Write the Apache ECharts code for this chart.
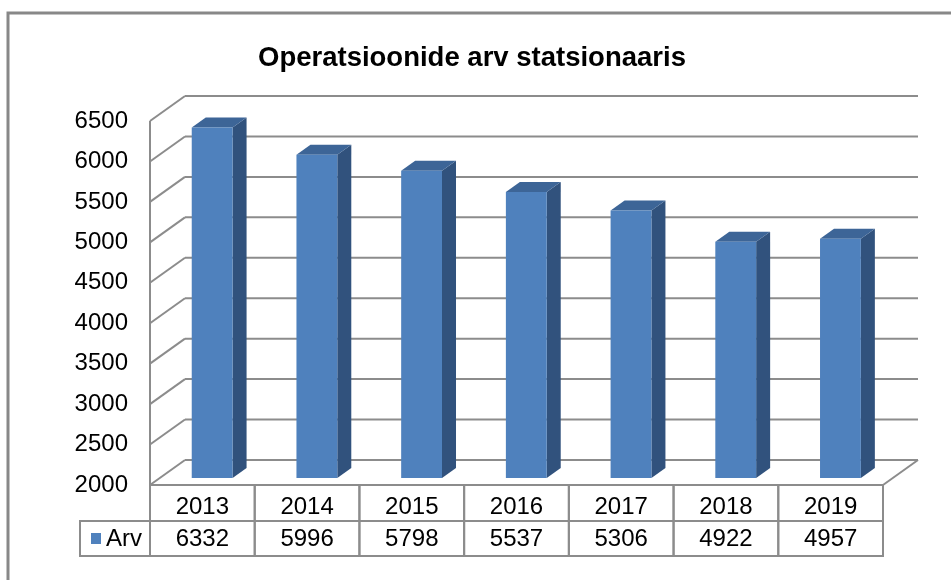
<!DOCTYPE html>
<html>
<head>
<meta charset="utf-8">
<script src="https://cdn.jsdelivr.net/npm/echarts@6/dist/echarts.min.js"></script>
<style>
  html, body { margin: 0; padding: 0; background: #fff; }
  #chart { width: 951px; height: 580px; }
</style>
</head>
<body>
<div id="chart"></div>
<script>
const years = ['2013', '2014', '2015', '2016', '2017', '2018', '2019'];
const counts = [6332, 5996, 5798, 5537, 5306, 4922, 4957];
const yTicks = [2000, 2500, 3000, 3500, 4000, 4500, 5000, 5500, 6000, 6500];
const seriesName = 'Arv';
const titleText = 'Operatsioonide arv statsionaaris';

const FONT = '"Liberation Sans", Arial, sans-serif';
const FS = 24;
const GRID_COLOR = '#8c8c8c';
const FRONT = '#4f81bd', SIDE = '#31527d', TOP = '#3d6597';
// depth of the 3d box in px; bars use a slice of it
const DX = 35, DY = -25;
const D0 = 0.28, D1 = 0.68;
const BAR_W = 0.39;
const ROW1 = 36, ROW2 = 35;

const chart = echarts.init(document.getElementById('chart'));

function line(x1, y1, x2, y2) {
  return { type: 'line', shape: { x1, y1, x2, y2 }, style: { stroke: GRID_COLOR, lineWidth: 2 } };
}

function renderWall(params, api) {
  const cs = params.coordSys;
  const y = api.coord([0, api.value(1)])[1];
  const x0 = cs.x, x1 = cs.x + cs.width;
  const children = [
    line(x0, y, x0 + DX, y + DY),
    line(x0 + DX, y + DY, x1 + DX, y + DY)
  ];
  if (params.dataIndex === 0) {
    const yTop = api.coord([0, yTicks[yTicks.length - 1]])[1];
    children.push(line(x0, y, x1, y));
    children.push(line(x1, y, x1 + DX, y + DY));
    children.push(line(x0, y, x0, yTop));
  }
  return { type: 'group', children };
}

function renderBar(params, api) {
  const i = api.value(0);
  const base = api.coord([i, yTicks[0]]);
  const top = api.coord([i, api.value(1)]);
  const band = api.size([1, 0])[0];
  const w = band * BAR_W;
  const x0 = base[0] - w / 2 + D0 * DX;
  const yt = top[1] + D0 * DY;
  const yb = base[1] + D0 * DY;
  const bx = (D1 - D0) * DX, by = (D1 - D0) * DY;
  return {
    type: 'group',
    children: [
      { type: 'polygon', shape: { points: [[x0 + w, yt], [x0 + w + bx, yt + by], [x0 + w + bx, yb + by], [x0 + w, yb]] }, style: { fill: SIDE } },
      { type: 'polygon', shape: { points: [[x0, yt], [x0 + w, yt], [x0 + w + bx, yt + by], [x0 + bx, yt + by]] }, style: { fill: TOP } },
      { type: 'rect', shape: { x: x0, y: yt, width: w, height: yb - yt }, style: { fill: FRONT } }
    ]
  };
}

function cellText(text, x, y, align) {
  return {
    type: 'text',
    style: { text, x, y, align: align || 'center', verticalAlign: 'middle', fontSize: FS, fontFamily: FONT, fill: '#000' }
  };
}

function renderTable(params, api) {
  const cs = params.coordSys;
  const i = api.value(0);
  const base = api.coord([i, yTicks[0]]);
  const band = api.size([1, 0])[0];
  const cx = base[0], y0 = base[1];
  const cellStyle = { fill: 'none', stroke: GRID_COLOR, lineWidth: 2 };
  const children = [
    { type: 'rect', shape: { x: cx - band / 2, y: y0, width: band, height: ROW1 }, style: cellStyle },
    { type: 'rect', shape: { x: cx - band / 2, y: y0 + ROW1, width: band, height: ROW2 }, style: cellStyle },
    cellText(years[i], cx, y0 + ROW1 / 2 + 4),
    cellText(String(api.value(1)), cx, y0 + ROW1 + ROW2 / 2 + 1)
  ];
  if (params.dataIndex === 0) {
    const lx = cs.x - 70;
    children.push({ type: 'rect', shape: { x: lx, y: y0 + ROW1, width: 70, height: ROW2 }, style: cellStyle });
    children.push({ type: 'rect', shape: { x: lx + 11, y: y0 + ROW1 + 12, width: 10, height: 11 }, style: { fill: FRONT } });
    children.push(cellText(seriesName, lx + 26, y0 + ROW1 + ROW2 / 2 + 1, 'left'));
  }
  return { type: 'group', children };
}

const option = {
  backgroundColor: '#fff',
  animation: false,
  title: {
    text: titleText,
    left: 253,
    top: 39,
    textStyle: { fontSize: 27.5, fontWeight: 'bold', fontFamily: FONT, color: '#000' }
  },
  graphic: [
    { type: 'rect', shape: { x: 8, y: 13, width: 1000, height: 700 }, style: { fill: 'none', stroke: '#888', lineWidth: 3 } }
  ],
  grid: { left: 150, right: 68, top: 121, bottom: 95, outerBoundsMode: 'none' },
  xAxis: {
    type: 'category',
    data: years,
    axisLabel: { show: false },
    axisLine: { show: false },
    axisTick: { show: false }
  },
  yAxis: {
    type: 'value',
    min: 2000,
    max: 6500,
    interval: 500,
    axisLine: { show: false },
    axisTick: { show: false },
    splitLine: { show: false },
    axisLabel: { fontSize: FS, fontFamily: FONT, color: '#000', margin: 22, formatter: v => String(v) }
  },
  series: [
    {
      type: 'custom',
      name: 'walls',
      z: 1,
      silent: true,
      renderItem: renderWall,
      data: yTicks.map(t => [0, t])
    },
    {
      type: 'custom',
      name: 'table',
      z: 2,
      renderItem: renderTable,
      data: counts.map((v, i) => [i, v])
    },
    {
      type: 'custom',
      name: seriesName,
      z: 3,
      renderItem: renderBar,
      data: counts.map((v, i) => [i, v])
    }
  ]
};

chart.setOption(option);
</script>
</body>
</html>
